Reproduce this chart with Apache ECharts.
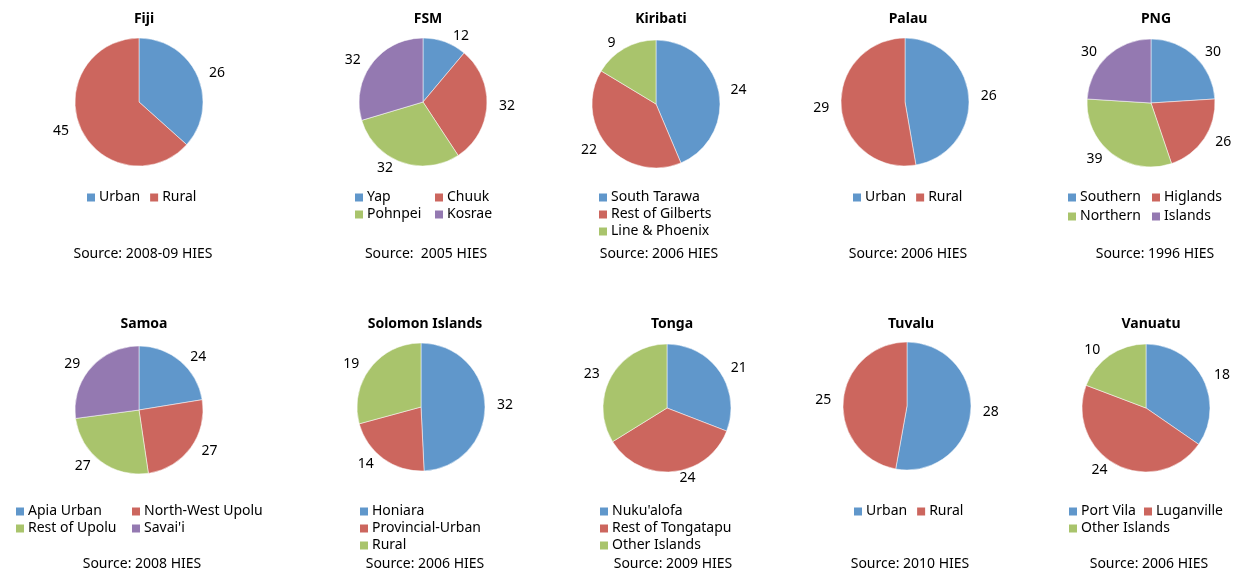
<!DOCTYPE html>
<html>
<head>
<meta charset="utf-8">
<script src="https://cdn.jsdelivr.net/npm/echarts@6/dist/echarts.min.js"></script>
<style>
  html, body { margin: 0; padding: 0; background: #fff; }
  #chart { width: 1243px; height: 576px; }
</style>
</head>
<body>
<div id="chart"></div>
<script>
// country titles and survey sources
const countries = ['Fiji', 'FSM', 'Kiribati', 'Palau', 'PNG',
  'Samoa', 'Solomon Islands', 'Tonga', 'Tuvalu', 'Vanuatu'];
const sources = ['Source: 2008-09 HIES', 'Source:  2005 HIES', 'Source: 2006 HIES',
  'Source: 2006 HIES', 'Source: 1996 HIES', 'Source: 2008 HIES', 'Source: 2006 HIES',
  'Source: 2009 HIES', 'Source: 2010 HIES', 'Source: 2006 HIES'];

// slices per country
const fijiNames = ['Urban', 'Rural'];
const fijiValues = [26, 45];
const fsmNames = ['Yap', 'Chuuk', 'Pohnpei', 'Kosrae'];
const fsmValues = [12, 32, 32, 32];
const kiribatiNames = ['South Tarawa', 'Rest of Gilberts', 'Line & Phoenix'];
const kiribatiValues = [24, 22, 9];
const palauNames = ['Urban', 'Rural'];
const palauValues = [26, 29];
const pngNames = ['Southern', 'Higlands', 'Northern', 'Islands'];
const pngValues = [30, 26, 39, 30];
const samoaNames = ['Apia Urban', 'North-West Upolu', 'Rest of Upolu', "Savai'i"];
const samoaValues = [24, 27, 27, 29];
const solomonNames = ['Honiara', 'Provincial-Urban', 'Rural'];
const solomonValues = [32, 14, 19];
const tongaNames = ["Nuku'alofa", 'Rest of Tongatapu', 'Other Islands'];
const tongaValues = [21, 24, 23];
const tuvaluNames = ['Urban', 'Rural'];
const tuvaluValues = [28, 25];
const vanuatuNames = ['Port Vila', 'Luganville', 'Other Islands'];
const vanuatuValues = [18, 24, 10];

const allNames = [fijiNames, fsmNames, kiribatiNames, palauNames, pngNames,
  samoaNames, solomonNames, tongaNames, tuvaluNames, vanuatuNames];
const allValues = [fijiValues, fsmValues, kiribatiValues, palauValues, pngValues,
  samoaValues, solomonValues, tongaValues, tuvaluValues, vanuatuValues];

const palette = ['#6097cb', '#cc665e', '#a9c46c', '#9479b1'];
const font = 'Noto Sans';

// layout: pie centre, title/source x, legend columns [left, top, slice indexes, orient, gap]
// (legend left/top include the default 5px legend padding)
const layout = [
  { c: [139, 102], tx: 139, sx: 138, leg: [[80, 185, [0, 1], 'horizontal']] },
  { c: [423, 102], tx: 423, sx: 421, leg: [[348, 185, [0, 2]], [428, 185, [1, 3]]] },
  { c: [656, 104], tx: 656, sx: 654, leg: [[592, 185, [0, 1, 2]]] },
  { c: [905, 102], tx: 903, sx: 903, leg: [[846, 185, [0, 1], 'horizontal']] },
  { c: [1151, 103], tx: 1151, sx: 1150, leg: [[1061, 185, [0, 2], 'vertical', 4], [1145, 185, [1, 3], 'vertical', 4]] },
  { c: [139, 410], tx: 139, sx: 137, leg: [[9, 499, [0, 2]], [125, 499, [1, 3]]] },
  { c: [421, 407], tx: 420, sx: 420, leg: [[353, 499, [0, 1, 2]]] },
  { c: [667, 408], tx: 667, sx: 668, leg: [[593, 499, [0, 1, 2]]] },
  { c: [907, 406], tx: 906, sx: 905, leg: [[847, 499, [0, 1], 'horizontal']] },
  { c: [1146, 408], tx: 1146, sx: 1144, leg: [[1062, 499, [0, 2]], [1137, 499, [1]]] }
];

const titles = [];
const legends = [];
const series = [];

countries.forEach(function (name, i) {
  const lay = layout[i];
  const row = i < 5 ? 0 : 1;
  titles.push({
    text: name, left: lay.tx, top: row ? 312 : 7, textAlign: 'center',
    textStyle: { fontFamily: font, fontSize: 14, fontWeight: 'bold', color: '#000' }
  });
  titles.push({
    text: sources[i], left: lay.sx, top: row ? 552 : 242, textAlign: 'center',
    textStyle: { fontFamily: font, fontSize: 14, fontWeight: 'normal', color: '#000' }
  });
  lay.leg.forEach(function (col) {
    legends.push({
      left: col[0], top: col[1],
      orient: col[3] || 'vertical',
      itemWidth: 10, itemHeight: 10,
      itemGap: col[3] === 'horizontal' ? 8 : (col[4] || 2),
      selectedMode: false,
      icon: 'rect',
      textStyle: { fontFamily: font, fontSize: 14, color: '#000', lineHeight: 15, padding: [0, 0, 0, -2] },
      data: col[2].map(function (k) {
        return { name: allNames[i][k], itemStyle: { color: palette[k] } };
      })
    });
  });
  series.push({
    type: 'pie',
    name: name,
    center: lay.c,
    radius: 64,
    startAngle: 90,
    clockwise: true,
    avoidLabelOverlap: false,
    animation: false,
    label: { show: true, position: 'outside', formatter: '{c}', fontFamily: font, fontSize: 14, color: '#000' },
    labelLine: { show: false, length: 6, length2: 1 },
    emphasis: { disabled: true },
    itemStyle: { borderColor: '#fff', borderWidth: 0.5 },
    data: allValues[i].map(function (v, k) {
      return { name: allNames[i][k], value: v, itemStyle: { color: palette[k] } };
    })
  });
});

const myChart = echarts.init(document.getElementById('chart'));
myChart.setOption({
  backgroundColor: '#fff',
  title: titles,
  legend: legends,
  series: series
});
</script>
</body>
</html>
